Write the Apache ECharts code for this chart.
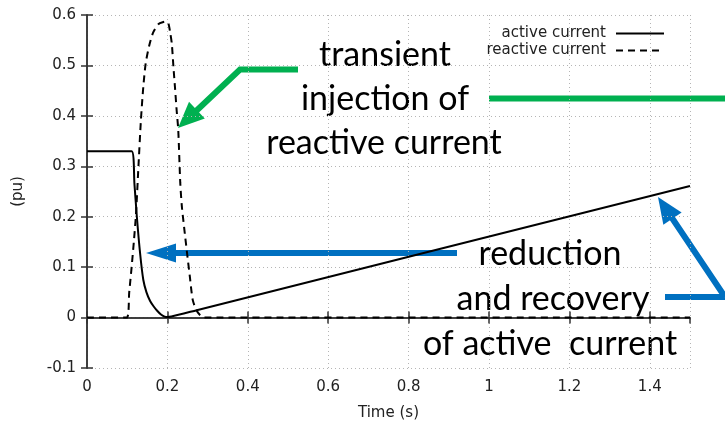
<!DOCTYPE html>
<html>
<head>
<meta charset="utf-8">
<script src="https://cdn.jsdelivr.net/npm/echarts@6/dist/echarts.min.js"></script>
<style>html,body{margin:0;padding:0;background:#fff}#c{width:725px;height:423px}</style>
</head>
<body>
<div id="c"></div>
<script>
// ---- data ----
const seriesNames = ['active current', 'reactive current'];
const activeTime = [0, 0.111, 0.118, 0.124, 0.132, 0.140, 0.148, 0.157, 0.166, 0.174, 0.184, 0.193, 0.2, 0.21, 0.273, 1.5];
const activeVal  = [0.33, 0.33, 0.265, 0.2, 0.128, 0.075, 0.05, 0.033, 0.022, 0.014, 0.006, 0.002, 0.001, 0.002, 0.0146, 0.261];
const reactiveTime = [0, 0.099, 0.105, 0.111, 0.117, 0.122, 0.128, 0.134, 0.140, 0.146, 0.155, 0.165, 0.178, 0.19, 0.197, 0.2025, 0.207, 0.211, 0.215, 0.219, 0.223, 0.227, 0.232, 0.236, 0.242, 0.248, 0.256, 0.263, 0.272, 0.281, 0.29, 1.5];
const reactiveVal  = [0, 0, 0.05, 0.1, 0.155, 0.207, 0.3, 0.39, 0.457, 0.504, 0.54, 0.566, 0.582, 0.586, 0.587, 0.583, 0.565, 0.543, 0.497, 0.455, 0.411, 0.372, 0.267, 0.22, 0.176, 0.134, 0.08, 0.035, 0.015, 0.005, 0, 0];
const xTicks = { min: 0, max: 1.5, interval: 0.2 };
const yTicks = { min: -0.1, max: 0.6, interval: 0.1 };
const xName = 'Time (s)';
const yName = '(pu)';
const notes = [
  ['transient', 'injection of', 'reactive current'],
  ['reduction', 'and recovery', 'of active  current']
];

const pairs = (xs, ys) => xs.map((x, i) => [x, ys[i]]);

const chart = echarts.init(document.getElementById('c'), null, { renderer: 'canvas' });

const axisCommon = {
  type: 'value',
  axisLine: { show: true, lineStyle: { color: '#333', width: 1.5 } },
  axisTick: { show: true, inside: true, length: 6, lineStyle: { color: '#333', width: 1.5 } },
};
const tickFont = { fontFamily: 'DejaVu Sans', fontSize: 15, color: '#222' };
const gridLine = { show: true, lineStyle: { color: '#b5b5b5', width: 1, type: [1, 3] } };

const GREEN = '#00b050', BLUE = '#0070c0';
function arrowHead(tipX, tipY, fromX, fromY, len, half, color) {
  const dx = tipX - fromX, dy = tipY - fromY;
  const d = Math.hypot(dx, dy);
  const ux = dx / d, uy = dy / d;
  const bx = tipX - ux * len, by = tipY - uy * len;
  return {
    type: 'polygon', silent: true,
    shape: { points: [[tipX, tipY], [bx - uy * half, by + ux * half], [bx + uy * half, by - ux * half]] },
    style: { fill: color }
  };
}
function poly(points, color) {
  return { type: 'polyline', silent: true, shape: { points }, style: { stroke: color, lineWidth: 6, fill: null, lineJoin: 'miter' } };
}
function note(text, x, y) {
  return { type: 'text', silent: true, x, y,
    style: { text, font: '34px Lato', fill: '#000', align: 'center', verticalAlign: 'middle' } };
}

const graphics = [
  // green arrows
  poly([[298, 69.5], [240, 69.5], [194, 113]], GREEN),
  arrowHead(178, 128, 240, 69.5, 26, 11.5, GREEN),
  poly([[489, 98.5], [725, 98.5]], GREEN),
  // blue arrows
  poly([[457, 253], [172, 253]], BLUE),
  arrowHead(146, 253, 457, 253, 30, 9.5, BLUE),
  poly([[665, 297], [725, 297], [670, 215]], BLUE),
  arrowHead(658, 197, 725, 297, 26, 11, BLUE),
  // annotation texts
  note(notes[0][0], 385, 55),
  note(notes[0][1], 385, 99.5),
  note(notes[0][2], 384, 143.5),
  note(notes[1][0], 550, 254.5),
  note(notes[1][1], 553, 299.5),
  note(notes[1][2], 550, 344)
];

chart.setOption({
  animation: false,
  backgroundColor: '#fff',
  grid: { left: 87, right: 35, top: 15, bottom: 55, containLabel: false, outerBoundsMode: 'none' },
  legend: {
    orient: 'vertical', align: 'right', right: 55, top: 21,
    itemWidth: 48, itemHeight: 10, itemGap: 2,
    itemStyle: { opacity: 0 },
    textStyle: { fontFamily: 'DejaVu Sans', fontSize: 15, lineHeight: 15, color: '#222', padding: [0, 5, 0, 0] },
    data: seriesNames
  },
  xAxis: [
    Object.assign({}, axisCommon, xTicks, {
      position: 'bottom',
      name: xName, nameLocation: 'middle', nameGap: 38,
      nameTextStyle: tickFont,
      axisLabel: Object.assign({ margin: 12, showMaxLabel: false }, tickFont),
      splitLine: gridLine
    }),
    Object.assign({}, axisCommon, xTicks, {
      position: 'top', axisLabel: { show: false }, splitLine: { show: false }
    })
  ],
  yAxis: [
    Object.assign({}, axisCommon, yTicks, {
      position: 'left',
      name: yName, nameLocation: 'middle', nameGap: 61,
      nameTextStyle: tickFont,
      axisLabel: Object.assign({ margin: 11 }, tickFont),
      splitLine: gridLine
    }),
    Object.assign({}, axisCommon, yTicks, {
      position: 'right', axisLabel: { show: false }, splitLine: { show: false }
    })
  ],
  series: [
    {
      name: seriesNames[0], type: 'line', xAxisIndex: 0, yAxisIndex: 0,
      data: pairs(activeTime, activeVal), symbol: 'none', smooth: 0.25,
      lineStyle: { color: '#000', width: 2 }, itemStyle: { color: '#000' }, z: 3
    },
    {
      name: seriesNames[1], type: 'line', xAxisIndex: 0, yAxisIndex: 0,
      data: pairs(reactiveTime, reactiveVal), symbol: 'none', smooth: 0.25,
      lineStyle: { color: '#000', width: 2, type: [7, 5] }, itemStyle: { color: '#000' }, z: 3
    }
  ],
  graphic: graphics
});
</script>
</body>
</html>
